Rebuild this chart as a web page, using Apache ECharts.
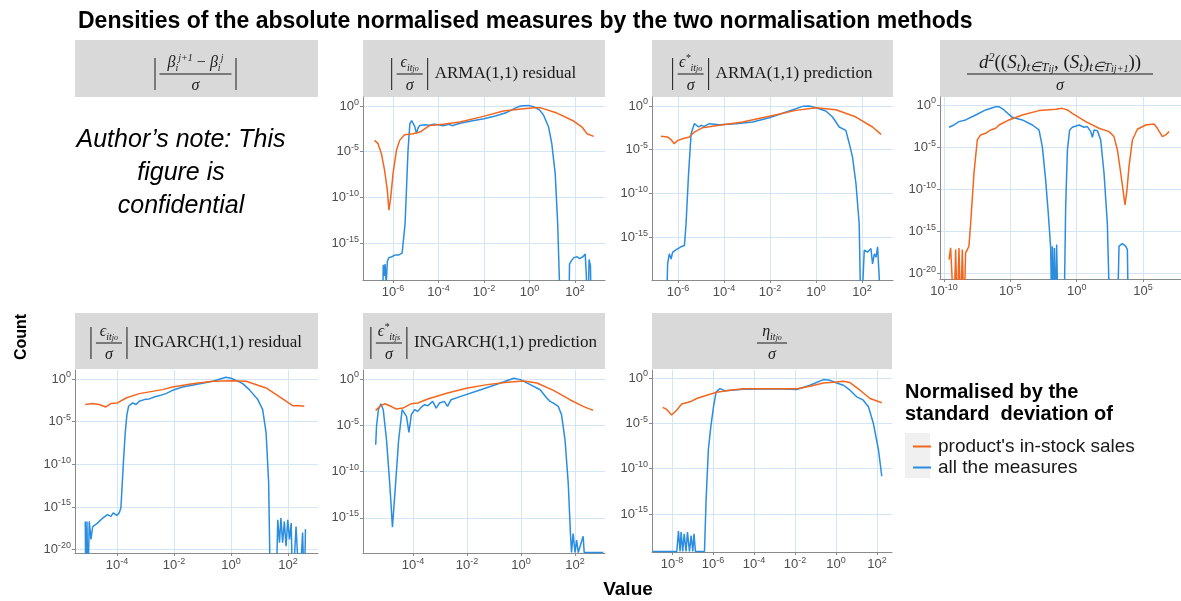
<!DOCTYPE html>
<html>
<head>
<meta charset="utf-8">
<script src="https://cdn.jsdelivr.net/npm/echarts@6/dist/echarts.min.js"></script>
<style>
html, body { margin: 0; padding: 0; background: #fff; }
#chart { width: 1181px; height: 601px; }
</style>
</head>
<body>
<div id="chart"></div>
<script>
// every point is [log10(value), log10(count)]
var orangeName = "product's in-stock sales";
var blueName = 'all the measures';

// |eps/sigma| ARMA(1,1) residual
var armaResOrange = [[-6.81,-3.76],[-6.66,-4.12],[-6.51,-5.22],[-6.37,-7.04],[-6.25,-9.23],[-6.18,-11.4],[-6.10,-10.0],[-6.0,-7.4],[-5.85,-4.85],[-5.71,-3.76],[-5.49,-3.14],[-5.12,-3.03],[-4.82,-2.85],[-4.38,-2.12],[-3.79,-2.0],[-3.06,-1.75],[-2.03,-1.13],[-1.15,-0.55],[-0.26,-0.29],[0.2,-0.2],[0.5,-0.2],[1.21,-0.77],[1.94,-1.64],[2.31,-2.3],[2.53,-3.03],[2.82,-3.32]];
var armaResBlue = [[-6.47,-25],[-6.43,-17.4],[-6.39,-18.6],[-6.35,-17.3],[-6.3,-19.5],[-6.25,-17.0],[-6.18,-16.6],[-6.05,-16.5],[-5.9,-16.3],[-5.75,-16.3],[-5.6,-16.1],[-5.53,-16.0],[-5.47,-12.9],[-5.41,-9.2],[-5.34,-4.85],[-5.26,-1.93],[-5.18,-1.6],[-5.12,-1.5],[-5.05,-2.2],[-4.97,-3.0],[-4.9,-2.4],[-4.82,-2.12],[-4.6,-2.05],[-4.4,-2.1],[-4.2,-2.0],[-4.0,-2.05],[-3.8,-2.15],[-3.55,-2.0],[-3.4,-2.15],[-3.2,-2.0],[-3.0,-1.85],[-2.5,-1.6],[-2.0,-1.4],[-1.5,-1.1],[-1.0,-0.7],[-0.6,-0.2],[-0.4,0.0],[-0.05,0.07],[0.2,-0.1],[0.45,-0.45],[0.62,-1.0],[0.84,-2.3],[0.98,-4.1],[1.13,-7.4],[1.24,-12.9],[1.32,-19.5],[1.36,-25],[1.72,-25],[1.76,-17.3],[1.85,-16.9],[1.95,-16.6],[2.1,-16.5],[2.2,-16.7],[2.35,-16.5],[2.45,-16.2],[2.5,-18.5],[2.55,-25],[2.62,-16.8],[2.68,-17.5],[2.73,-25]];

// |eps*/sigma| ARMA(1,1) prediction
var armaPredOrange = [[-6.74,-3.47],[-6.45,-3.55],[-6.3,-3.85],[-6.16,-4.31],[-6.01,-3.93],[-5.8,-3.74],[-5.51,-3.55],[-5.29,-2.98],[-4.93,-2.48],[-4.2,-2.21],[-3.19,-1.83],[-2.03,-1.18],[-0.87,-0.5],[0,-0.19],[0.87,-0.42],[1.74,-1.26],[2.46,-2.4],[2.83,-3.24]];
var armaPredBlue = [[-6.52,-25],[-6.45,-18.05],[-6.38,-16.9],[-6.3,-17.5],[-6.23,-16.7],[-6.09,-16.45],[-5.87,-16.1],[-5.72,-15.95],[-5.65,-13.5],[-5.54,-7.75],[-5.43,-3.17],[-5.29,-2.02],[-5.22,-1.83],[-5.1,-2.4],[-5.0,-2.21],[-4.86,-2.33],[-4.64,-2.02],[-4.2,-2.14],[-3.48,-2.02],[-2.75,-1.83],[-2.03,-1.34],[-1.16,-0.57],[-0.58,-0.04],[-0.29,0],[0,-0.19],[0.43,-0.57],[0.72,-1.26],[1.01,-2.4],[1.3,-2.79],[1.45,-4.31],[1.59,-5.84],[1.74,-8.89],[1.88,-13.5],[1.96,-25],[2.03,-25],[2.1,-16.5],[2.25,-16.7],[2.39,-16.3],[2.46,-18.05],[2.54,-16.9],[2.61,-17.3],[2.68,-16.1],[2.75,-19.6],[2.83,-25]];

// d^2(...)/sigma
var distOrange = [[-9.62,-18.4],[-9.5,-17.0],[-9.37,-16.8],[-9.25,-25],[-9.12,-17.2],[-9.0,-25],[-8.87,-17.0],[-8.74,-25],[-8.62,-17.2],[-8.49,-25],[-8.37,-17.6],[-8.24,-17.2],[-8.12,-16.8],[-7.99,-14.1],[-7.74,-8.1],[-7.49,-4.16],[-7.24,-3.56],[-6.86,-3.37],[-6.48,-2.97],[-6.11,-2.77],[-5.85,-2.38],[-5.10,-1.78],[-4.10,-1.19],[-2.84,-0.67],[-1.58,-0.51],[-1.08,-0.40],[-0.70,-0.59],[-0.33,-0.99],[0.68,-1.98],[1.68,-2.77],[2.44,-3.17],[2.81,-3.76],[3.07,-5.35],[3.32,-8.12],[3.49,-10.1],[3.64,-11.9],[3.79,-10.1],[3.94,-7.33],[4.2,-4.16],[4.57,-2.89],[5.2,-2.38],[5.83,-2.26],[6.08,-2.77],[6.46,-3.76],[6.71,-3.56],[6.96,-3.17]];
var distBlue = [[-9.62,-2.65],[-9.25,-2.38],[-8.87,-1.98],[-8.37,-1.78],[-7.61,-1.19],[-6.86,-0.59],[-6.11,-0.2],[-5.85,-0.2],[-5.48,-0.59],[-4.85,-1.47],[-4.1,-1.78],[-3.34,-2.38],[-2.84,-2.97],[-2.59,-4.95],[-2.34,-8.91],[-2.14,-12.9],[-1.96,-17.0],[-1.88,-25],[-1.83,-16.8],[-1.76,-25],[-1.68,-17.0],[-1.58,-25],[-1.51,-16.6],[-1.41,-25],[-0.95,-25],[-0.83,-12.1],[-0.70,-5.35],[-0.53,-2.97],[-0.33,-2.65],[0.18,-2.38],[0.55,-2.65],[0.80,-2.57],[1.06,-3.17],[1.18,-3.84],[1.31,-2.97],[1.56,-3.05],[1.81,-4.16],[2.06,-8.12],[2.31,-14.1],[2.49,-25],[3.07,-25],[3.19,-16.8],[3.44,-16.5],[3.69,-16.8],[3.82,-17.2],[3.89,-25]];

// |eps/sigma| INGARCH(1,1) residual
var ingResOrange = [[-5.11,-3.0],[-4.85,-2.89],[-4.62,-3.0],[-4.39,-3.28],[-4.21,-2.89],[-3.98,-2.81],[-3.68,-2.23],[-3.22,-1.72],[-2.40,-1.25],[-2.05,-0.94],[-1.35,-0.55],[-0.64,-0.27],[0.06,-0.2],[0.53,-0.27],[1.23,-1.05],[1.81,-2.34],[2.16,-3.13],[2.40,-3.13],[2.57,-3.2]];
var ingResBlue = [[-5.11,-16.7],[-5.09,-25],[-5.05,-16.7],[-5.02,-25],[-4.97,-16.7],[-4.91,-18.8],[-4.85,-17.3],[-4.68,-16.9],[-4.5,-16.3],[-4.33,-15.9],[-4.21,-16.1],[-4.13,-15.7],[-4.01,-16.0],[-3.92,-15.7],[-3.86,-15.1],[-3.78,-10.2],[-3.71,-6.33],[-3.65,-4.18],[-3.59,-3.2],[-3.45,-2.81],[-3.33,-3.0],[-3.22,-2.62],[-3.04,-2.42],[-2.87,-2.34],[-2.69,-2.11],[-2.51,-1.95],[-2.28,-1.72],[-2.05,-1.33],[-1.70,-0.94],[-1.23,-0.66],[-0.64,-0.27],[-0.18,0.2],[0,0.08],[0.18,-0.16],[0.41,-0.55],[0.64,-1.25],[0.94,-2.42],[1.11,-3.59],[1.23,-6.33],[1.32,-12.2],[1.38,-25],[1.58,-25],[1.64,-16.5],[1.70,-19.2],[1.75,-16.3],[1.81,-19.2],[1.87,-16.7],[1.93,-19.6],[1.99,-16.5],[2.05,-18.8],[2.11,-16.9],[2.16,-25],[2.28,-17.3],[2.40,-25],[2.51,-18.0],[2.57,-25],[2.61,-17.6]];

// |eps*/sigma| INGARCH(1,1) prediction
var ingPredOrange = [[-5.38,-3.39],[-5.22,-2.96],[-5.04,-2.67],[-4.86,-2.89],[-4.61,-3.25],[-4.37,-3.14],[-4.06,-2.67],[-3.82,-2.6],[-3.45,-2.17],[-2.72,-1.52],[-1.98,-0.97],[-1.25,-0.61],[-0.51,-0.36],[0.1,-0.22],[0.59,-0.43],[1.2,-1.23],[1.81,-2.24],[2.30,-2.96],[2.67,-3.39]];
var ingPredBlue = [[-5.38,-7.11],[-5.35,-5.13],[-5.28,-3.32],[-5.19,-2.67],[-5.1,-3.32],[-4.98,-6.57],[-4.86,-11.3],[-4.76,-16.0],[-4.65,-11.6],[-4.53,-6.57],[-4.40,-3.32],[-4.33,-3.14],[-4.24,-4.04],[-4.15,-5.78],[-4.06,-3.86],[-3.94,-3.32],[-3.82,-3.5],[-3.69,-3.03],[-3.57,-2.78],[-3.45,-2.89],[-3.27,-2.42],[-3.14,-3.14],[-3.02,-2.6],[-2.84,-2.42],[-2.72,-2.96],[-2.59,-2.24],[-2.23,-1.88],[-1.49,-1.16],[-0.76,-0.43],[-0.27,0.07],[-0.02,-0.07],[0.34,-0.61],[0.71,-1.16],[0.95,-2.06],[1.08,-2.42],[1.2,-2.6],[1.38,-2.96],[1.50,-3.86],[1.63,-6.57],[1.75,-11.3],[1.83,-16.7],[1.87,-18.75],[1.93,-16.7],[2.0,-18.75],[2.06,-17.4],[2.12,-18.75],[2.30,-17.0],[2.34,-18.75],[3.05,-18.75]];

// eta/sigma
var etaOrange = [[-8.46,-3.25],[-8.26,-3.47],[-8.02,-4.09],[-7.77,-3.54],[-7.53,-2.88],[-7.12,-2.63],[-6.80,-2.26],[-6.31,-1.90],[-5.82,-1.57],[-5.17,-1.35],[-4.52,-1.20],[-2.89,-1.2],[-1.92,-1.2],[-1.27,-0.91],[-0.62,-0.55],[0.03,-0.44],[0.36,-0.36],[0.68,-0.51],[1.17,-1.35],[1.66,-2.26],[2.23,-2.74]];
var etaBlue = [[-8.95,-19.15],[-7.77,-19.15],[-7.69,-16.9],[-7.61,-19.15],[-7.56,-17.0],[-7.48,-19.15],[-7.41,-17.2],[-7.32,-19.15],[-7.25,-17.0],[-7.15,-19.15],[-7.07,-17.4],[-6.99,-19.15],[-6.93,-17.2],[-6.86,-19.15],[-6.42,-19.15],[-6.34,-13.4],[-6.23,-7.92],[-6.11,-5.36],[-5.98,-3.18],[-5.85,-1.53],[-5.66,-1.17],[-5.41,-1.42],[-4.52,-1.24],[-2.89,-1.2],[-1.92,-1.28],[-1.27,-0.8],[-0.62,-0.18],[-0.29,-0.26],[0.03,-0.55],[0.36,-0.8],[0.68,-1.35],[1.01,-2.08],[1.33,-2.45],[1.58,-3.18],[1.82,-5.0],[2.07,-7.92],[2.23,-10.84]];

// tick exponents
var ticksArmaX = [-6, -4, -2, 0, 2];
var ticksDistX = [-10, -5, 0, 5];
var ticksIngX = [-4, -2, 0, 2];
var ticksEtaX = [-8, -6, -4, -2, 0, 2];
var ticksY15 = [0, -5, -10, -15];
var ticksY20 = [0, -5, -10, -15, -20];

var panels = [
    {box: [363, 97, 242, 183], x: [-7.32, 3.32], y: [-19.05, 0.99], xt: ticksArmaX, yt: ticksY15, o: armaResOrange, b: armaResBlue},
    {box: [652, 97, 241, 183], x: [-7.13, 3.35], y: [-19.9, 1.03], xt: ticksArmaX, yt: ticksY15, o: armaPredOrange, b: armaPredBlue},
    {box: [940, 97, 241, 182], x: [-10.3, 7.86], y: [-20.7, 0.95], xt: ticksDistX, yt: ticksY20, o: distOrange, b: distBlue},
    {box: [75, 370, 243, 183], x: [-5.47, 3.05], y: [-20.4, 1.05], xt: ticksIngX, yt: ticksY20, o: ingResOrange, b: ingResBlue},
    {box: [363, 370, 242, 183], x: [-5.85, 3.11], y: [-18.8, 0.97], xt: ticksIngX, yt: ticksY15, o: ingPredOrange, b: ingPredBlue},
    {box: [652, 370, 240, 182], x: [-8.98, 2.73], y: [-19.2, 0.88], xt: ticksEtaX, yt: ticksY15, o: etaOrange, b: etaBlue}
];

var tickRich = {
    b: {fontSize: 13, lineHeight: 17, color: '#4d4d4d', fontFamily: 'Liberation Sans'},
    s: {fontSize: 9, lineHeight: 9, verticalAlign: 'top', color: '#4d4d4d', fontFamily: 'Liberation Sans'}
};
function pow10(v) {
    return '{b|10}{s|' + v + '}';
}

var grids = [], xAxes = [], yAxes = [], series = [];
panels.forEach(function (p, i) {
    grids.push({left: p.box[0], top: p.box[1], width: p.box[2], height: p.box[3], containLabel: false, outerBoundsMode: 'none'});
    xAxes.push({
        gridIndex: i, type: 'value', min: p.x[0], max: p.x[1],
        axisLine: {show: true, onZero: false, lineStyle: {color: '#8a8a8a'}},
        axisTick: {show: true, length: 3, customValues: p.xt, lineStyle: {color: '#8a8a8a'}},
        axisLabel: {customValues: p.xt, formatter: pow10, rich: tickRich, margin: 4},
        splitLine: {show: true, lineStyle: {color: '#d2e6f8', width: 1}}
    });
    yAxes.push({
        gridIndex: i, type: 'value', min: p.y[0], max: p.y[1],
        axisLine: {show: true, onZero: false, lineStyle: {color: '#8a8a8a'}},
        axisTick: {show: true, length: 3, customValues: p.yt, lineStyle: {color: '#8a8a8a'}},
        axisLabel: {customValues: p.yt, formatter: pow10, rich: tickRich, margin: 4},
        splitLine: {show: true, lineStyle: {color: '#d2e6f8', width: 1}}
    });
    series.push({
        type: 'line', name: blueName, xAxisIndex: i, yAxisIndex: i, data: p.b,
        showSymbol: false, symbol: 'none', clip: true, silent: true,
        color: '#2b8de0', lineStyle: {width: 1.5, color: '#2b8de0'}
    });
    series.push({
        type: 'line', name: orangeName, xAxisIndex: i, yAxisIndex: i, data: p.o,
        showSymbol: false, symbol: 'none', clip: true, silent: true,
        color: '#f4661e', lineStyle: {width: 1.5, color: '#f4661e'}
    });
});

// strip labels (ggplot facet strips with maths)
var ink = '#1a1a1a';
var mathRich = {
    m: {fontFamily: 'Liberation Serif', fontStyle: 'italic', fontSize: 16, lineHeight: 20, fill: ink},
    r: {fontFamily: 'Liberation Serif', fontSize: 16, lineHeight: 20, fill: ink},
    sb: {fontFamily: 'Liberation Serif', fontStyle: 'italic', fontSize: 10, lineHeight: 7, verticalAlign: 'bottom', fill: ink},
    ssb: {fontFamily: 'Liberation Serif', fontStyle: 'italic', fontSize: 8, lineHeight: 3, verticalAlign: 'bottom', fill: ink},
    sm: {fontFamily: 'Liberation Serif', fontStyle: 'italic', fontSize: 8, lineHeight: 13, verticalAlign: 'bottom', fill: ink},
    sp: {fontFamily: 'Liberation Serif', fontStyle: 'italic', fontSize: 10, lineHeight: 10, verticalAlign: 'top', fill: ink}
};
var bigRich = {
    m: {fontFamily: 'Liberation Serif', fontStyle: 'italic', fontSize: 19, lineHeight: 22, fill: ink},
    r: {fontFamily: 'Liberation Serif', fontSize: 19, lineHeight: 22, fill: ink},
    sb: {fontFamily: 'Liberation Serif', fontStyle: 'italic', fontSize: 13, lineHeight: 7, verticalAlign: 'bottom', fill: ink},
    ssb: {fontFamily: 'Liberation Serif', fontStyle: 'italic', fontSize: 10, lineHeight: 3, verticalAlign: 'bottom', fill: ink},
    sm: {fontFamily: 'Liberation Serif', fontStyle: 'italic', fontSize: 10, lineHeight: 14, verticalAlign: 'bottom', fill: ink},
    sp: {fontFamily: 'Liberation Serif', fontStyle: 'italic', fontSize: 12, lineHeight: 11, verticalAlign: 'top', fill: ink}
};
var wordFont = '17px "Liberation Serif"';
var ctx = document.createElement('canvas').getContext('2d');
function textWidth(s, font) {
    ctx.font = font;
    return ctx.measureText(s).width;
}

var gfx = [];
function stripRect(x, y, w, h) {
    gfx.push({type: 'rect', shape: {x: x, y: y, width: w, height: h}, style: {fill: '#d9d9d9'}, z: 0});
}
function bar(x, cy) {
    gfx.push({type: 'line', shape: {x1: x, y1: cy - 16, x2: x, y2: cy + 16}, style: {stroke: ink, lineWidth: 1}});
}
function fraction(cx, cy, num, den, halfW, rich) {
    rich = rich || mathRich;
    gfx.push({type: 'text', x: cx, y: cy - 11, style: {text: num, rich: rich, align: 'center', verticalAlign: 'middle'}});
    gfx.push({type: 'line', shape: {x1: cx - halfW, y1: cy, x2: cx + halfW, y2: cy}, style: {stroke: ink, lineWidth: 1}});
    gfx.push({type: 'text', x: cx, y: cy + 12, style: {text: den, rich: mathRich, align: 'center', verticalAlign: 'middle'}});
}
function absLabel(cx, cy, num, words) {
    var total = 43 + textWidth(words, wordFont);
    var x0 = cx - total / 2;
    bar(x0, cy);
    fraction(x0 + 18, cy, num, '{m|σ}', 13);
    bar(x0 + 36, cy);
    gfx.push({type: 'text', x: x0 + 43, y: cy, style: {text: words, font: wordFont, fill: ink, align: 'left', verticalAlign: 'middle'}});
}

stripRect(75, 40, 243, 57);
stripRect(363, 40, 242, 57);
stripRect(652, 40, 241, 57);
stripRect(940, 40, 241, 57);
stripRect(75, 313, 243, 56);
stripRect(363, 313, 242, 56);
stripRect(652, 313, 240, 56);

bar(155, 74);
fraction(195.5, 74, '{m|β}{sb|i}{sp|j+1}{r| − }{m|β}{sb|i}{sp|j}', '{m|σ}', 36);
bar(236, 74);
absLabel(484, 74, '{m|ϵ}{sb|it}{ssb|jo}', 'ARMA(1,1) residual');
absLabel(772.5, 74, '{m|ϵ}{sp|*}{sb|it}{ssb|jo}', 'ARMA(1,1) prediction');
fraction(1060, 74, '{m|d}{sp|2}{r|((}{m|S}{sb|t}{r|)}{sb|t∈T}{ssb|i}{sm|j}{r|, (}{m|S}{sb|t}{r|)}{sb|t∈T}{ssb|i}{sm|j+1}{r|))}', '{m|σ}', 93, bigRich);
absLabel(196.5, 343, '{m|ϵ}{sb|it}{ssb|jo}', 'INGARCH(1,1) residual');
absLabel(484, 343, '{m|ϵ}{sp|*}{sb|it}{ssb|js}', 'INGARCH(1,1) prediction');
fraction(772, 343, '{m|η}{sb|it}{ssb|jo}', '{m|σ}', 15);

// free text
var noteFont = 'italic 25px "Liberation Sans"';
['Author\u2019s note: This', 'figure is', 'confidential'].forEach(function (t, k) {
    gfx.push({type: 'text', x: 181, y: 140 + k * 33, style: {text: t, font: noteFont, fill: '#000', align: 'center', verticalAlign: 'middle'}});
});
gfx.push({type: 'text', x: 22, y: 337, rotation: Math.PI / 2, style: {text: 'Count', font: 'bold 16px "Liberation Sans"', fill: '#000', align: 'center', verticalAlign: 'middle'}});
gfx.push({type: 'text', x: 628, y: 590, style: {text: 'Value', font: 'bold 19px "Liberation Sans"', fill: '#000', align: 'center', verticalAlign: 'middle'}});
gfx.push({type: 'text', x: 905, y: 392, style: {text: 'Normalised by the', font: 'bold 20px "Liberation Sans"', fill: '#000', align: 'left', verticalAlign: 'middle'}});
gfx.push({type: 'text', x: 905, y: 414, style: {text: 'standard  deviation of', font: 'bold 20px "Liberation Sans"', fill: '#000', align: 'left', verticalAlign: 'middle'}});
gfx.push({type: 'rect', shape: {x: 905, y: 433, width: 25, height: 45}, style: {fill: '#f0f0f0'}, z: 0});

var chart = echarts.init(document.getElementById('chart'));
chart.setOption({
    animation: false,
    backgroundColor: '#fff',
    title: {
        text: 'Densities of the absolute normalised measures by the two normalisation methods',
        left: 73, top: 5,
        textStyle: {fontSize: 23, fontWeight: 'bold', color: '#000', fontFamily: 'Liberation Sans'}
    },
    legend: {
        data: [orangeName, blueName],
        orient: 'vertical', left: 908, top: 432,
        icon: 'rect', itemWidth: 18, itemHeight: 2, itemGap: 2,
        selectedMode: false,
        textStyle: {fontSize: 19, lineHeight: 19, color: '#1a1a1a', fontFamily: 'Liberation Sans', padding: [0, 0, 0, 2]}
    },
    grid: grids,
    xAxis: xAxes,
    yAxis: yAxes,
    series: series,
    graphic: gfx
});
</script>
</body>
</html>
